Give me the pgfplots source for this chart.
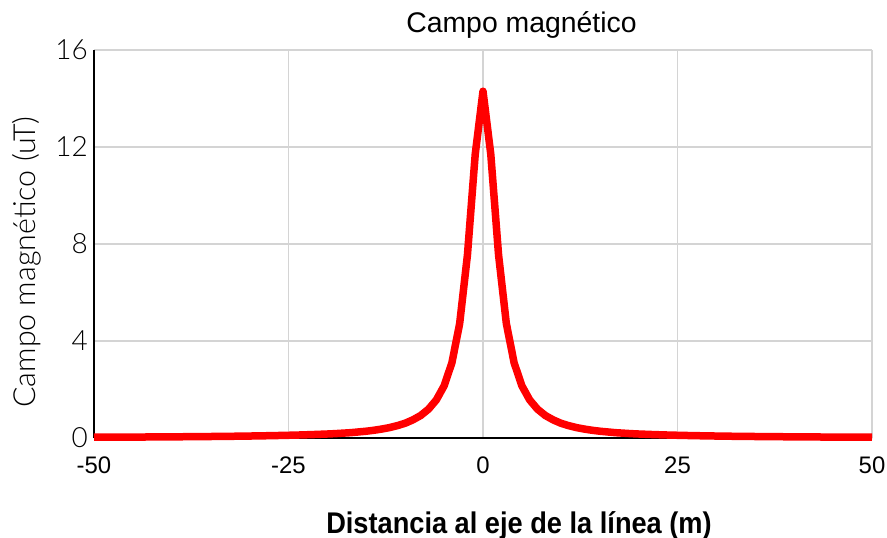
\documentclass[border=0pt]{standalone}
\usepackage{fontspec}
\setmainfont{Liberation Sans}
\newfontfamily\xlabfont[FakeStretch=0.91]{Liberation Sans}
\newfontfamily\lightfont{Lato Light}
\usepackage{pgfplots}
\pgfplotsset{compat=1.18}
\definecolor{gridgray}{RGB}{212,212,212}
\definecolor{pured}{RGB}{255,0,0}
\begin{document}
\begin{tikzpicture}
\path[use as bounding box] (-94bp,-100bp) rectangle (793bp,438bp);
\begin{axis}[
  at={(0,0)}, anchor=south west,
  scale only axis, width=778bp, height=388bp,
  xmin=-50, xmax=50, ymin=0, ymax=16,
  xtick={-50,-25,0,25,50}, xticklabels={-50,-25,0,25,50},
  ytick={0,4,8,12,16}, yticklabels={0,4,8,12,16},
  grid=major, major grid style={color=gridgray, line width=1.6bp},
  axis lines=left, axis line style={-, black, line width=2bp},
  major tick length=0pt,
  xticklabel style={font=\fontsize{24}{24}\selectfont, anchor=base, yshift=-35bp},
  yticklabel style={font=\lightfont\fontsize{28}{28}\selectfont, anchor=east, inner sep=0pt, xshift=-6bp},
  clip=false,
]
\addplot[pured, line width=7.5bp, line join=round] coordinates {
(-50,0.032) (-48,0.034) (-46,0.037) (-44,0.040) (-42,0.044) (-40,0.048)
(-38,0.053) (-36,0.058) (-34,0.065) (-32,0.072) (-30,0.081) (-28,0.092)
(-26,0.105) (-24,0.12) (-22,0.14) (-20,0.165) (-19,0.18) (-18,0.20)
(-17,0.22) (-16,0.25) (-15,0.28) (-14,0.32) (-13,0.37) (-12,0.43)
(-11,0.51) (-10,0.61) (-9,0.75) (-8,0.93) (-7,1.19) (-6,1.57)
(-5,2.15) (-4,3.10) (-3,4.72) (-2,7.55) (-1,11.70) (0,14.30)
(1,11.70) (2,7.55) (3,4.72) (4,3.10) (5,2.15) (6,1.57)
(7,1.19) (8,0.93) (9,0.75) (10,0.61) (11,0.51) (12,0.43)
(13,0.37) (14,0.32) (15,0.28) (16,0.25) (17,0.22) (18,0.20)
(19,0.18) (20,0.165) (22,0.14) (24,0.12) (26,0.105) (28,0.092)
(30,0.081) (32,0.072) (34,0.065) (36,0.058) (38,0.053) (40,0.048)
(42,0.044) (44,0.040) (46,0.037) (48,0.034) (50,0.032)
};
\end{axis}
\node[anchor=base, inner sep=0pt, font=\fontsize{28.5}{30}\selectfont] at (427.5bp,405bp) {Campo magnético};
\node[anchor=base, inner sep=0pt, font=\xlabfont\bfseries\fontsize{30}{32}\selectfont] at (425bp,-95bp) {Distancia al eje de la línea (m)};
\node[rotate=90, anchor=center, inner sep=0pt, font=\lightfont\fontsize{30.5}{32}\selectfont] at (-67bp,176bp) {Campo magnético (uT)};
\end{tikzpicture}
\end{document}
